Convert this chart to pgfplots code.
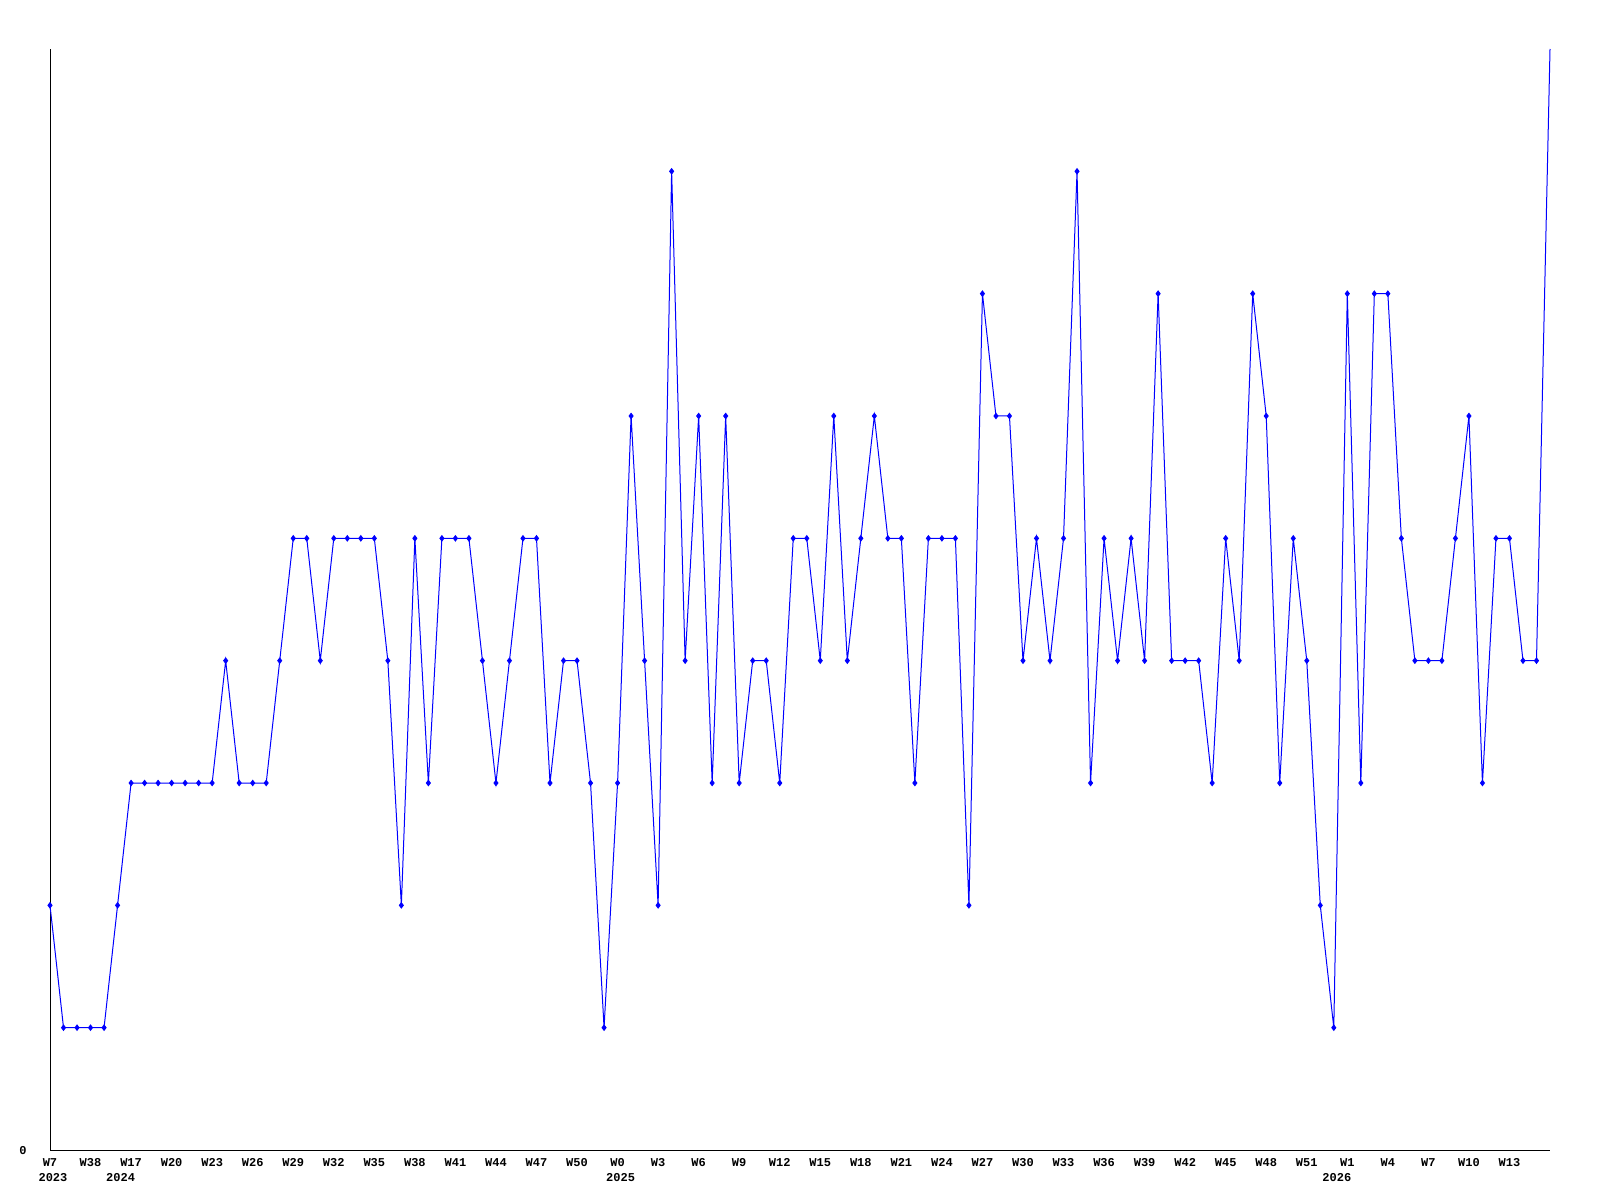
\documentclass[border=0pt]{standalone}
\usepackage{fontspec}
\setmainfont{Liberation Mono}
\usepackage{pgfplots}
\pgfplotsset{compat=1.18}
\begin{document}
\begin{tikzpicture}[x=1pt,y=1pt]
\path[use as bounding box] (0,0) rectangle (800,600);
\begin{axis}[
  at={(25pt,25pt)}, anchor=south west,
  scale only axis, width=750pt, height=550.5pt,
  xmin=0, xmax=111, ymin=0, ymax=9,
  axis x line=bottom, axis y line=left,
  axis line style={-, black, line width=0.5pt},
  xtick={0,3,...,108},
  xticklabels={W7,W38,W17,W20,W23,W26,W29,W32,W35,W38,W41,W44,W47,W50,W0,W3,W6,W9,W12,W15,W18,W21,W24,W27,W30,W33,W36,W39,W42,W45,W48,W51,W1,W4,W7,W10,W13},
  extra x ticks={0,5,42,95},
  extra x tick labels={2023,2024,2025,2026},
  extra x tick style={xticklabel style={yshift=-7.5pt, xshift=1.5pt}},
  ytick={0}, yticklabels={0},
  major tick length=0pt,
  tick style={draw=none},
  tick label style={font=\fontsize{6}{7}\selectfont\bfseries},
  xticklabel style={anchor=base, yshift=-8pt},
  yticklabel style={anchor=base, xshift=-13.5pt, yshift=-2pt},
  clip=false,
]
\addplot[blue, line width=0.5pt, mark=diamond*, mark size=1.3pt, mark options={blue}, mark indices={1,...,111}] coordinates {
(0,2)(1,1)(2,1)(3,1)(4,1)(5,2)(6,3)(7,3)(8,3)(9,3)
(10,3)(11,3)(12,3)(13,4)(14,3)(15,3)(16,3)(17,4)(18,5)(19,5)
(20,4)(21,5)(22,5)(23,5)(24,5)(25,4)(26,2)(27,5)(28,3)(29,5)
(30,5)(31,5)(32,4)(33,3)(34,4)(35,5)(36,5)(37,3)(38,4)(39,4)
(40,3)(41,1)(42,3)(43,6)(44,4)(45,2)(46,8)(47,4)(48,6)(49,3)
(50,6)(51,3)(52,4)(53,4)(54,3)(55,5)(56,5)(57,4)(58,6)(59,4)
(60,5)(61,6)(62,5)(63,5)(64,3)(65,5)(66,5)(67,5)(68,2)(69,7)
(70,6)(71,6)(72,4)(73,5)(74,4)(75,5)(76,8)(77,3)(78,5)(79,4)
(80,5)(81,4)(82,7)(83,4)(84,4)(85,4)(86,3)(87,5)(88,4)(89,7)
(90,6)(91,3)(92,5)(93,4)(94,2)(95,1)(96,7)(97,3)(98,7)(99,7)
(100,5)(101,4)(102,4)(103,4)(104,5)(105,6)(106,3)(107,5)(108,5)(109,4)
(110,4)(111,9)
};
\end{axis}
\end{tikzpicture}
\end{document}
